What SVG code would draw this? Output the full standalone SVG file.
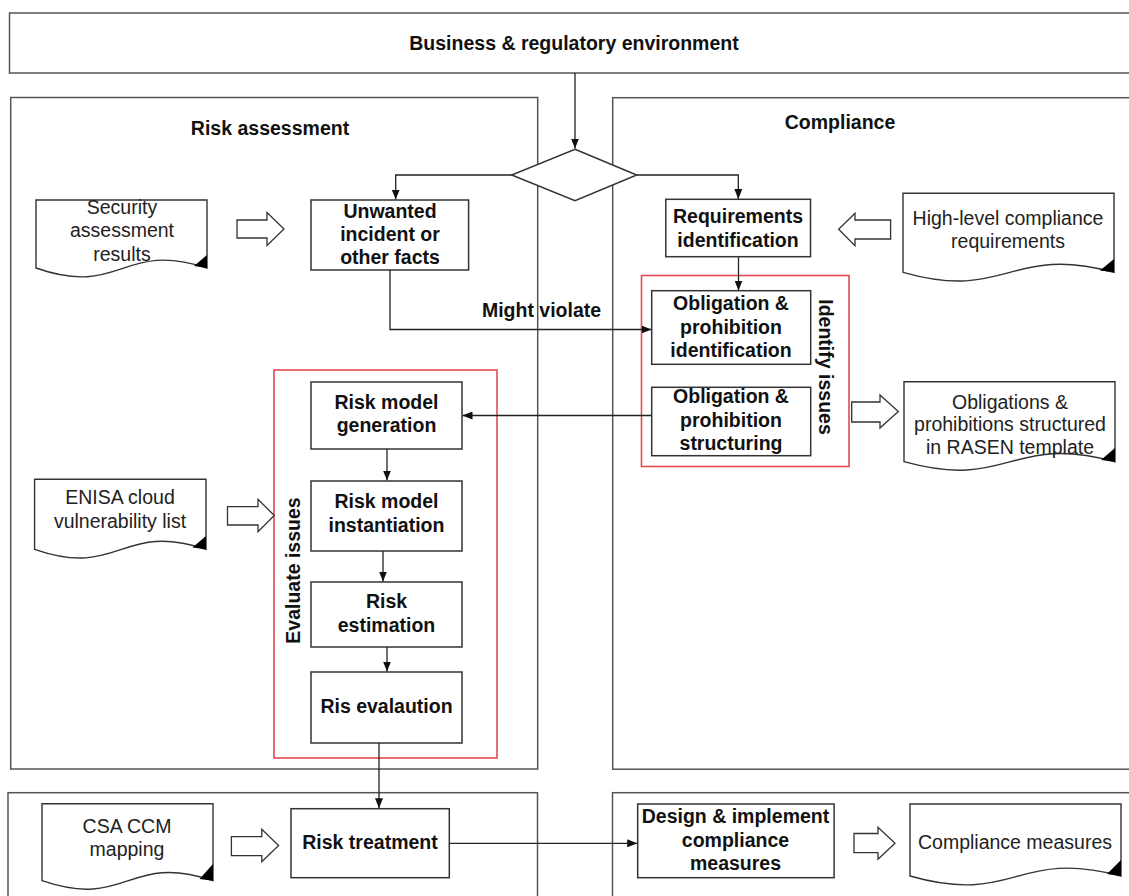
<svg xmlns="http://www.w3.org/2000/svg" width="1129" height="896" viewBox="0 0 1129 896">
<defs>
<style>
.panel{fill:none;stroke:#555;stroke-width:1.5}
.box{fill:#fff;stroke:#333;stroke-width:1.5}
.red{fill:none;stroke:#e34a52;stroke-width:1.6}
.doc{fill:#fff;stroke:#333;stroke-width:1.4}
.tri{fill:#000}
.barrow{fill:#fff;stroke:#333;stroke-width:1.3}
.conn{fill:none;stroke:#222;stroke-width:1.3}
.b{font-family:"Liberation Sans",Arial,sans-serif;font-weight:bold;font-size:19.5px;fill:#111;text-anchor:middle}
.n{font-family:"Liberation Sans",Arial,sans-serif;font-size:19.5px;fill:#222;text-anchor:middle}
</style>
<marker id="ah" markerUnits="userSpaceOnUse" markerWidth="10" markerHeight="8" refX="10" refY="4" orient="auto">
<path d="M0,0 L10,4 L0,8 z" fill="#111"/>
</marker>
</defs>

<g id="panels">
<rect id="env" class="panel" x="9.5" y="13" width="1130" height="60"/>
<rect id="risk-assessment" class="panel" x="10.7" y="97.5" width="527" height="671.5"/>
<rect id="compliance" class="panel" x="612.7" y="97.7" width="530" height="671.5"/>
<rect id="treatment-panel" class="panel" x="8" y="792.7" width="529.5" height="130"/>
<rect id="measures-panel" class="panel" x="612.5" y="792.7" width="530" height="130"/>
<text class="b" x="574" y="50">Business &amp; regulatory environment</text>
<text class="b" x="270" y="135">Risk assessment</text>
<text class="b" x="840" y="129">Compliance</text>
</g>

<g id="red-groups">
<rect id="evaluate-issues" class="red" x="274" y="370" width="223" height="388"/>
<text class="b" transform="translate(300,570.5) rotate(-90)">Evaluate issues</text>
<rect id="identify-issues" class="red" x="641.5" y="275.5" width="207.5" height="191"/>
<text class="b" transform="translate(819,367) rotate(90)">Identify issues</text>
</g>

<g id="connectors">
<path class="conn" d="M575,73 V148.5" marker-end="url(#ah)"/>
<path class="conn" d="M511.7,175 H395.7 V199.5" marker-end="url(#ah)"/>
<path class="conn" d="M636.7,175 H738.3 V199" marker-end="url(#ah)"/>
<path class="conn" d="M738.5,256.7 V290.5" marker-end="url(#ah)"/>
<path class="conn" d="M390,270 V329.5 H651.5" marker-end="url(#ah)"/>
<text class="b" x="541.5" y="317">Might violate</text>
<path class="conn" d="M651.7,415.5 H462.5" marker-end="url(#ah)"/>
<path class="conn" d="M387,449 V480.5" marker-end="url(#ah)"/>
<path class="conn" d="M383,551 V581.5" marker-end="url(#ah)"/>
<path class="conn" d="M387,647 V671.5" marker-end="url(#ah)"/>
<path class="conn" d="M379,743 V808.2" marker-end="url(#ah)"/>
<path class="conn" d="M449.3,843.3 H637.2" marker-end="url(#ah)"/>
</g>

<g id="diamond">
<polygon class="box" points="575,149.3 636.7,175 575,200.7 511.7,175"/>
</g>

<g id="unwanted-incident">
<rect class="box" x="311" y="200" width="157.6" height="70"/>
<text class="b" x="390" y="218">Unwanted</text>
<text class="b" x="390" y="241">incident or</text>
<text class="b" x="390" y="264">other facts</text>
</g>

<g id="requirements-identification">
<rect class="box" x="665.8" y="199.3" width="144.7" height="57.4"/>
<text class="b" x="738" y="223">Requirements</text>
<text class="b" x="738" y="246.5">identification</text>
</g>

<g id="obligation-identification">
<rect class="box" x="651.7" y="290.7" width="159" height="73.6"/>
<text class="b" x="731" y="310">Obligation &amp;</text>
<text class="b" x="731" y="333.5">prohibition</text>
<text class="b" x="731" y="357">identification</text>
</g>

<g id="obligation-structuring">
<rect class="box" x="651.7" y="387.3" width="159" height="68.4"/>
<text class="b" x="731" y="403">Obligation &amp;</text>
<text class="b" x="731" y="426.5">prohibition</text>
<text class="b" x="731" y="450">structuring</text>
</g>

<g id="risk-model-generation">
<rect class="box" x="311" y="382" width="151" height="67"/>
<text class="b" x="386.5" y="409">Risk model</text>
<text class="b" x="386.5" y="432">generation</text>
</g>

<g id="risk-model-instantiation">
<rect class="box" x="311" y="481" width="151" height="70"/>
<text class="b" x="386.5" y="508">Risk model</text>
<text class="b" x="386.5" y="531.5">instantiation</text>
</g>

<g id="risk-estimation">
<rect class="box" x="311" y="582" width="151" height="65"/>
<text class="b" x="386.5" y="608">Risk</text>
<text class="b" x="386.5" y="631.5">estimation</text>
</g>

<g id="risk-evaluation">
<rect class="box" x="311" y="672" width="151" height="71"/>
<text class="b" x="386.5" y="712.5">Ris evalaution</text>
</g>

<g id="risk-treatment">
<rect class="box" x="291" y="808.7" width="158.3" height="69"/>
<text class="b" x="370" y="848.5">Risk treatment</text>
</g>

<g id="design-implement">
<rect class="box" x="637.7" y="804" width="196.4" height="73.7"/>
<text class="b" x="735.5" y="823">Design &amp; implement</text>
<text class="b" x="735.5" y="846.5">compliance</text>
<text class="b" x="735.5" y="869.5">measures</text>
</g>

<g id="security-assessment-results">
<path class="doc" d="M36,200 H207 V268 C121.5,240 121.5,298 36,268 Z"/>
<polygon class="tri" points="207,255 207,268 194,266"/>
<text class="n" x="122" y="213.5">Security</text>
<text class="n" x="122" y="237">assessment</text>
<text class="n" x="122" y="260.5">results</text>
</g>

<g id="high-level-requirements">
<path class="doc" d="M903,193.3 H1114 V272.3 C1008.5,244 1008.5,302 903,272.3 Z"/>
<polygon class="tri" points="1114,259 1114,272.3 1100,270.5"/>
<text class="n" x="1008" y="225">High-level compliance</text>
<text class="n" x="1008" y="248">requirements</text>
</g>

<g id="obligations-structured">
<path class="doc" d="M904,381.7 H1115 V461.7 C1009.5,433 1009.5,491 904,461.7 Z"/>
<polygon class="tri" points="1115,448 1115,461.7 1101,460"/>
<text class="n" x="1010" y="408.5">Obligations &amp;</text>
<text class="n" x="1010" y="431">prohibitions structured</text>
<text class="n" x="1010" y="454">in RASEN template</text>
</g>

<g id="enisa-list">
<path class="doc" d="M34.6,479.3 H206 V549.3 C120.3,521 120.3,579 34.6,549.3 Z"/>
<polygon class="tri" points="206,536 206,549.3 192.5,547.5"/>
<text class="n" x="120" y="504">ENISA cloud</text>
<text class="n" x="120" y="527.5">vulnerability list</text>
</g>

<g id="csa-ccm-mapping">
<path class="doc" d="M42,803.7 H213 V880.7 C127.5,852 127.5,910 42,880.7 Z"/>
<polygon class="tri" points="213,864 213,880.7 199.5,879"/>
<text class="n" x="127" y="833">CSA CCM</text>
<text class="n" x="127" y="856">mapping</text>
</g>

<g id="compliance-measures">
<path class="doc" d="M910,804 H1121 V876 C1015.5,848 1015.5,906 910,876 Z"/>
<polygon class="tri" points="1121,860 1121,876 1107,874"/>
<text class="n" x="1015" y="848.5">Compliance measures</text>
</g>

<g id="block-arrows">
<polygon class="barrow" points="237,220 267,220 267,212.5 284,229 267,245.5 267,238 237,238"/>
<polygon class="barrow" points="890.6,220 855,220 855,213.3 838.6,229.3 855,245.7 855,239 890.6,239"/>
<polygon class="barrow" points="851.7,402 880,402 880,395 898.3,411.5 880,428 880,422 851.7,422"/>
<polygon class="barrow" points="227.5,506.7 258,506.7 258,499.3 274.3,515.5 258,531.7 258,525 227.5,525"/>
<polygon class="barrow" points="231.4,836.7 261.8,836.7 261.8,829.3 278.6,845.5 261.8,861.7 261.8,855.7 231.4,855.7"/>
<polygon class="barrow" points="854,833.5 878,833.5 878,827.3 895,843.3 878,859.3 878,852.7 854,852.7"/>
</g>
</svg>
